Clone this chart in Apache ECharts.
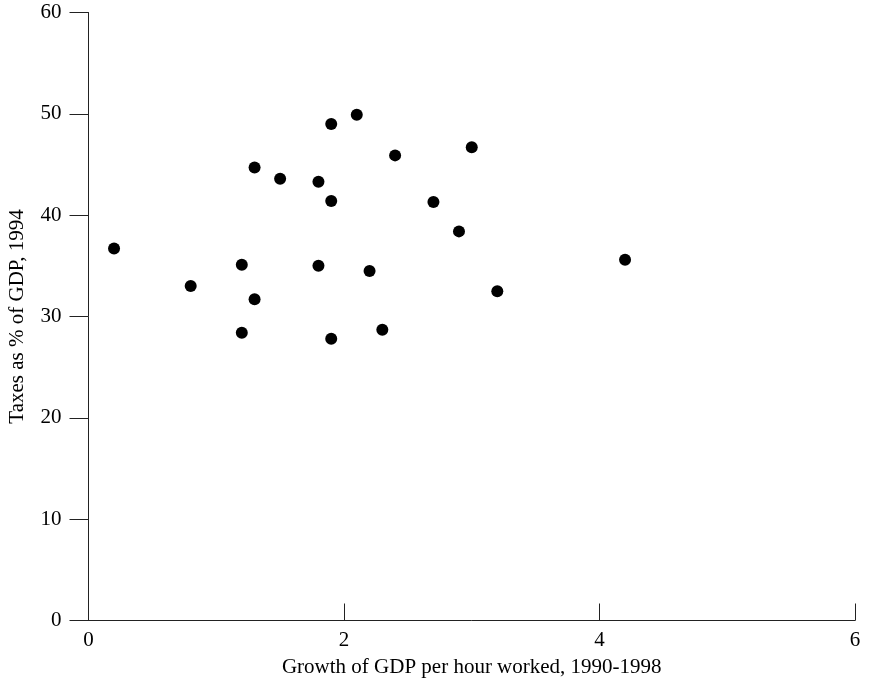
<!DOCTYPE html>
<html>
<head>
<meta charset="utf-8">
<script src="https://cdn.jsdelivr.net/npm/echarts@6/dist/echarts.min.js"></script>
<style>html,body{margin:0;padding:0;background:#fff}#c{width:869px;height:683px}</style>
</head>
<body>
<div id="c"></div>
<script>
const growth = [0.2, 0.8, 1.2, 1.2, 1.3, 1.3, 1.5, 1.8, 1.8, 1.9, 1.9, 1.9, 2.1, 2.2, 2.3, 2.4, 2.7, 2.9, 3.0, 3.2, 4.2];
const taxes  = [36.7, 33.0, 35.1, 28.4, 44.7, 31.7, 43.6, 43.3, 35.0, 49.0, 41.4, 27.8, 49.9, 34.5, 28.7, 45.9, 41.3, 38.4, 46.7, 32.5, 35.6];
const xName = 'Growth of GDP per hour worked, 1990-1998';
const yName = 'Taxes as % of GDP, 1994';

const font = 'Liberation Serif';
const chart = echarts.init(document.getElementById('c'), null, {renderer: 'canvas'});
chart.setOption({
  animation: false,
  backgroundColor: '#fff',
  grid: {left: 88.5, right: 14, top: 12.5, bottom: 62.5, containLabel: false, outerBoundsMode: 'none'},
  xAxis: {
    type: 'value', min: 0, max: 6, interval: 2,
    name: xName, nameLocation: 'middle', nameGap: 36,
    nameTextStyle: {fontFamily: font, fontSize: 21, color: '#000'},
    axisLine: {show: true, lineStyle: {color: '#222', width: 1}},
    axisTick: {show: true, inside: true, length: 17, lineStyle: {color: '#222'}},
    axisLabel: {fontFamily: font, fontSize: 21, color: '#000', margin: 9},
    splitLine: {show: false}
  },
  yAxis: {
    type: 'value', min: 0, max: 60, interval: 10,
    name: yName, nameLocation: 'middle', nameGap: 61,
    nameTextStyle: {fontFamily: font, fontSize: 21, color: '#000'},
    axisLine: {show: true, lineStyle: {color: '#222', width: 1}},
    axisTick: {show: true, inside: false, length: 19, lineStyle: {color: '#222'}},
    axisLabel: {fontFamily: font, fontSize: 21, color: '#000', margin: 27},
    splitLine: {show: false}
  },
  series: [{
    type: 'scatter',
    symbol: 'circle',
    symbolSize: 12,
    itemStyle: {color: '#000', opacity: 1},
    data: growth.map((g, i) => [g, taxes[i]])
  }]
});
</script>
</body>
</html>
